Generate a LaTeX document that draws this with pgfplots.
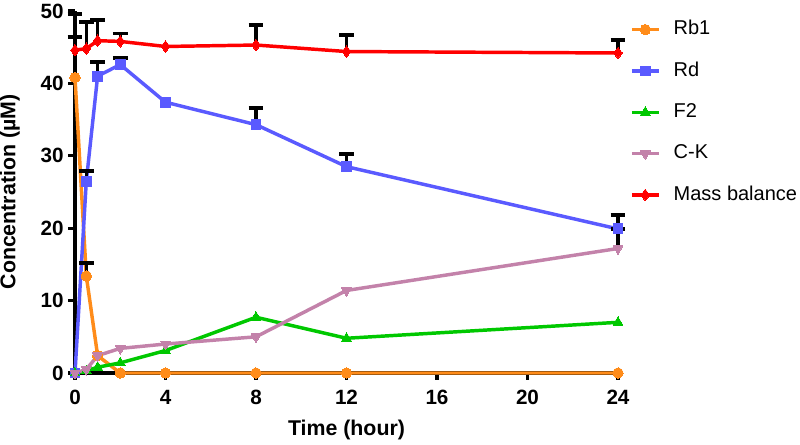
\documentclass[border=0pt]{standalone}
\usepackage{pgfplots}
\pgfplotsset{compat=1.18}
\usepackage{fontspec}
\setmainfont{Liberation Sans}
\definecolor{cRb}{RGB}{255,140,26}
\definecolor{cRd}{RGB}{90,90,255}
\definecolor{cF}{RGB}{0,200,0}
\definecolor{cCK}{RGB}{195,130,170}
\definecolor{cMB}{RGB}{255,0,0}
\begin{document}
\begin{tikzpicture}
\begin{axis}[
  name=ax,
  scale only axis,
  width=407.25pt, height=271.5pt,
  xmin=0, xmax=24, ymin=0, ymax=50,
  axis x line*=bottom, axis y line*=left,
  axis line style={line width=2.4pt, black},
  xtick={0,4,8,12,16,20,24},
  ytick={0,10,20,30,40,50},
  tick align=outside,
  major tick length=5pt,
  every tick/.style={black, line width=2.4pt},
  /pgf/number format/assume math mode=true,
  ticklabel style={font=\fontsize{15.5}{16}\selectfont\bfseries},
  xticklabel style={yshift=-4.5pt},
  xlabel={Time (hour)}, ylabel={Concentration (µM)},
  every axis x label/.style={at={(axis description cs:0.5,-0.157)}, anchor=center, font=\fontsize{16}{18}\selectfont\bfseries},
  every axis y label/.style={at={(axis description cs:-0.12,0.5)}, rotate=90, anchor=center, font=\fontsize{16}{18}\selectfont\bfseries},
  clip=false,
  legend style={draw=none, fill=none, at={(axis description cs:1.022,0.975)}, anchor=north west,
    font=\fontsize{15}{15}\selectfont, row sep=17pt, inner sep=0pt,
    nodes={inner sep=0pt, text height=11pt, text depth=3pt},
    /tikz/every odd column/.append style={column sep=10pt}},
  legend cell align=left,
  legend image code/.code={\draw[mark repeat=2,mark phase=2,#1] plot coordinates {(0pt,0pt) (10pt,0pt) (20pt,0pt)};},
  every axis plot/.append style={line width=2.6pt},
  errb/.style={draw=none, mark=none, forget plot,
    error bars/.cd, y dir=plus, y explicit, error mark=-,
    error bar style={draw=black, line width=2.6pt},
    error mark options={draw=black, line width=2.8pt, mark size=5.5pt, rotate=90}},
]
\addplot[cRb, mark=*, mark size=3.9pt, mark options={solid, fill=cRb, draw=cRb, line width=0pt}] coordinates {
(0,40.8) (0.5,13.4) (1,2.4) (2,0) (4,0) (8,0) (12,0) (24,0)};
\addlegendentry{Rb1}
\addplot[cRd, mark=square*, mark size=3.7pt, mark options={solid, fill=cRd, draw=cRd, line width=0pt}] coordinates {
(0,0) (0.5,26.5) (1,41.0) (2,42.6) (4,37.4) (8,34.3) (12,28.5) (24,19.9)};
\addlegendentry{Rd}
\addplot[cF, mark=triangle*, mark size=4.3pt, mark options={solid, fill=cF, draw=cF, line width=0pt}] coordinates {
(0,0) (0.5,0.3) (1,0.8) (2,1.4) (4,3.1) (8,7.7) (12,4.8) (24,7.0)};
\addlegendentry{F2}
\addplot[cCK, mark=triangle*, mark size=4.3pt, mark options={solid, fill=cCK, draw=cCK, line width=0pt, rotate=180}] coordinates {
(0,0) (0.5,0.5) (1,2.4) (2,3.4) (4,4.0) (8,5.0) (12,11.4) (24,17.2)};
\addlegendentry{C-K}
\addplot[cMB, mark=diamond*, mark size=4.3pt, mark options={solid, fill=cMB, draw=cMB, line width=0pt}] coordinates {
(0,44.6) (0.5,44.8) (1,45.9) (2,45.8) (4,45.1) (8,45.3) (12,44.4) (24,44.2)};
\addlegendentry{Mass balance}
% error bars (upper only)
\addplot[errb] coordinates {(0,40.8) +- (0,8.8) (0.5,13.4) +- (0,1.8)};
\addplot[errb] coordinates {(0.5,26.5) +- (0,1.4) (1,41.0) +- (0,2.0) (2,42.6) +- (0,0.9) (8,34.3) +- (0,2.3) (12,28.5) +- (0,1.7) (24,19.9) +- (0,1.9)};
\addplot[errb] coordinates {(24,17.2) +- (0,2.7)};
\addplot[errb] coordinates {(0,44.6) +- (0,1.8) (0.5,44.8) +- (0,3.7) (1,45.9) +- (0,2.9) (2,45.8) +- (0,1.1) (8,45.3) +- (0,2.8) (12,44.4) +- (0,2.3) (24,44.2) +- (0,1.8)};
\end{axis}
\pgfresetboundingbox
\path ([xshift=-56.25pt,yshift=-53.25pt]ax.south west) rectangle ([xshift=136.5pt,yshift=8.25pt]ax.north east);
\end{tikzpicture}
\end{document}
